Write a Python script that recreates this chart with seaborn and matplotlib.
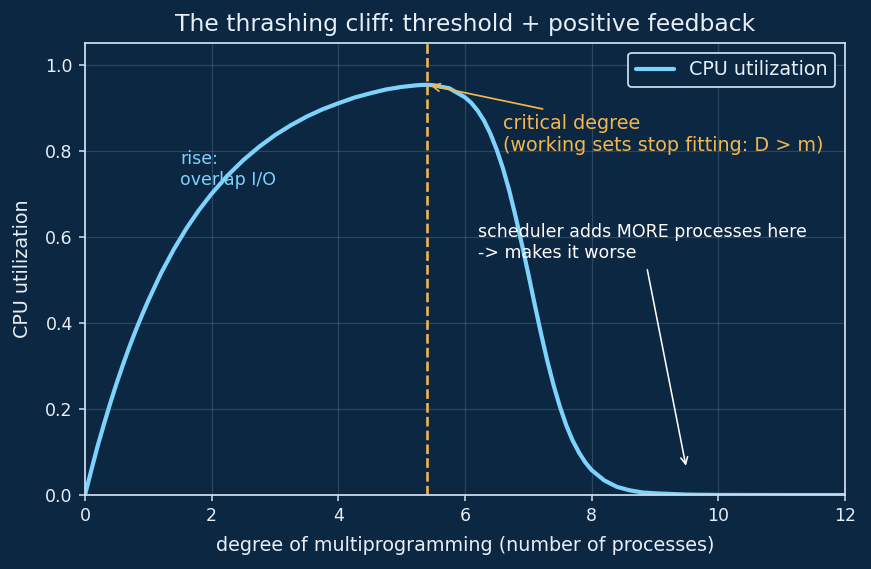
import matplotlib
matplotlib.use("Agg")
import matplotlib.pyplot as plt
import numpy as np
import pandas as pd
import seaborn as sns

# values
degree = [0.0, 0.1, 0.2, 0.3, 0.4, 0.5, 0.6, 0.7, 0.8, 0.9, 1.0, 1.2, 1.4,
          1.6, 1.8, 2.0, 2.25, 2.5, 2.75,
          3.0, 3.25, 3.5, 3.75, 4.0, 4.25, 4.5, 4.75, 5.0, 5.25, 5.4, 5.5,
          5.75, 6.0, 6.1, 6.2, 6.3, 6.4, 6.5, 6.6, 6.7, 6.8, 6.9, 7.0, 7.1,
          7.2, 7.3, 7.4, 7.5, 7.6, 7.7, 7.8, 7.9, 8.0, 8.2, 8.4, 8.6, 8.8,
          9.0, 9.5, 10.0, 11.0, 12.0]
cpu_util = [0.0, 0.058, 0.114, 0.165, 0.214, 0.260, 0.303, 0.344, 0.382,
            0.418, 0.452, 0.515, 0.570, 0.619, 0.662, 0.700,
            0.742, 0.778, 0.809, 0.836, 0.859, 0.879, 0.896, 0.910, 0.923,
            0.933, 0.942, 0.948, 0.952, 0.953, 0.952, 0.945, 0.924, 0.911,
            0.893, 0.870, 0.840, 0.803, 0.759, 0.707, 0.647, 0.582, 0.514,
            0.444, 0.376, 0.312, 0.255, 0.205, 0.162, 0.127, 0.099, 0.076,
            0.058, 0.034, 0.019, 0.011, 0.006, 0.004, 0.001, 0.0002, 0.0, 0.0]
critical_degree = 5.4
peak_util = 0.953

BG = "#0b2742"
FG = "#e8eef5"
BLUE = "#7dd3fc"
ORANGE = "#f2b64c"

sns.set_style("dark")
plt.rcParams.update({
    "font.family": ["DejaVu Sans"],
    "figure.facecolor": BG,
    "axes.facecolor": BG,
    "axes.edgecolor": "#cfe0f0",
    "text.color": FG,
    "axes.labelcolor": FG,
    "xtick.color": FG,
    "ytick.color": FG,
})

df = pd.DataFrame({"degree": degree, "cpu": cpu_util})

fig, ax = plt.subplots(figsize=(6.968, 4.552), dpi=125)
fig.subplots_adjust(left=0.0976, right=0.970, top=0.9244, bottom=0.130)

sns.lineplot(data=df, x="degree", y="cpu", color=BLUE, linewidth=2.4,
             label="CPU utilization", ax=ax)
ax.axvline(critical_degree, color=ORANGE, linestyle="--", linewidth=1.5)

ax.set_xlim(0, 12)
ax.set_ylim(0, 1.05)
ax.set_xticks(range(0, 13, 2))
ax.set_yticks([0.0, 0.2, 0.4, 0.6, 0.8, 1.0])
ax.tick_params(axis="both", which="both", bottom=True, left=True,
               length=3.5, width=0.9, color="#cfe0f0", labelsize=10)
ax.grid(True, color="#c8d8e8", alpha=0.18, linewidth=0.7)
for sp in ax.spines.values():
    sp.set_color("#cfe0f0")
    sp.set_linewidth(1.0)

ax.set_title("The thrashing cliff: threshold + positive feedback",
             fontsize=13.5, color=FG, pad=7)
ax.set_xlabel("degree of multiprogramming (number of processes)", fontsize=11,
              labelpad=6)
ax.set_ylabel("CPU utilization", fontsize=11, labelpad=7.5)

ax.text(1.5, 0.72, "rise:\noverlap I/O", color=BLUE, fontsize=10)

ax.annotate("critical degree\n(working sets stop fitting: D > m)",
            xy=(critical_degree, peak_util), xytext=(6.6, 0.80),
            color=ORANGE, fontsize=11,
            arrowprops=dict(arrowstyle="->", color=ORANGE, lw=1.0))
ax.annotate("scheduler adds MORE processes here\n-> makes it worse",
            xy=(9.5, 0.06), xytext=(6.2, 0.55),
            color="white", fontsize=10,
            arrowprops=dict(arrowstyle="->", color="white", lw=0.9))

leg = ax.legend(loc="upper right", fontsize=11, facecolor=BG,
                edgecolor="#cfe0f0", framealpha=1)
for t in leg.get_texts():
    t.set_color(FG)
leg.get_frame().set_linewidth(1.0)

fig.savefig("out.png", dpi=125, facecolor=BG)
